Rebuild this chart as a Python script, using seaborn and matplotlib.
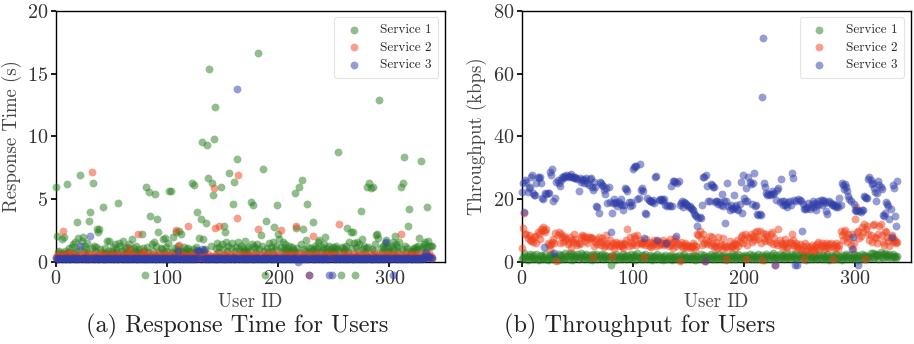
import matplotlib
matplotlib.use("Agg")
import matplotlib.pyplot as plt
import seaborn as sns
import pandas as pd
import numpy as np

# ---------------- data ----------------
user_ids = list(range(339))
services = ["Service 1", "Service 2", "Service 3"]

rt_service1 = [
    6.0, 2.1, 0.8, 0.9, 0.6, 1.8, 0.7, 2.0, 0.9, 0.6,
    6.2, 0.8, 1.1, 0.5, 1.2, 1.4, 0.7, 1.6, 0.9, 3.2,
    1.9, 1.0, 6.9, 1.7, 2.0, 0.8, 1.3, 1.0, 1.5, 0.7,
    3.25, 4.0, 1.1, 6.3, 1.3, 0.9, 1.2, 2.6, 2.4, 2.6,
    1.0, 0.8, 4.4, 0.6, 1.1, 0.7, 1.7, 0.9, 1.7, 0.6,
    0.9, 1.2, 0.7, 1.4, 1.0, 0.8, 4.7, 1.5, 1.3, 0.9,
    1.7, 0.7, 1.1, 0.6, 1.2, 0.8, 1.4, 1.0, 1.8, 0.7,
    1.1, 0.9, 1.3, 0.6, 0.8, 1.0, 0.7, 2.2, 1.1, 0.9,
    -1, 5.95, 1.2, 0.8, 5.6, 3.7, 1.4, 0.9, 1.6, 5.4,
    1.3, 3.4, 2.35, 0.8, 1.1, 1.0, 1.8, 0.7, 1.9, 1.2,
    0.9, 1.5, 5.65, 5.65, 0.8, 2.0, 1.1, 0.7, 2.4, 1.0,
    1.3, 2.5, 2.2, 0.9, 0.8, 1.2, 0.7, 1.0, 0.6, 1.1,
    0.9, 0.8, 6.3, 1.0, 6.1, 0.7, 1.2, 3.95, 0.9, 1.9,
    3.45, 9.55, 1.8, 0.8, 1.0, 3.1, 9.3, 6.7, 15.35, 1.3,
    6.3, 5.3, 9.75, 12.35, 1.1, 1.5, 0.8, 1.2, 6.0, 1.4,
    1.0, 2.9, 2.35, 1.6, 0.9, 1.3, 7.1, 1.1, 1.5, 4.6,
    6.4, 0.9, 1.2, 8.2, 1.6, 1.0, 1.3, 0.8, 1.1, 0.9,
    1.7, 0.8, 1.0, 1.2, 0.9, 4.75, 1.4, 4.55, 1.3, 1.1,
    0.8, 1.4, 16.6, 1.0, 2.15, 1.3, 7.4, 0.9, -1, 3.25,
    1.1, 0.8, 1.5, 1.2, 0.9, 1.6, 2.8, 1.0, 1.3, 4.55,
    2.25, 1.8, 1.2, 0.9, 1.6, 1.0, 1.4, 0.8, 1.1, 0.9,
    1.3, 0.8, 1.2, 1.0, 0.9, 5.5, 2.7, 1.1, 0.8, 6.0,
    1.4, 6.5, 2.65, 1.0, 0.9, 1.75, 4.6, 1.2, 0.8, 1.1,
    0.9, 3.2, 1.0, 1.3, 0.8, 1.1, 1.6, 1.75, 0.9, 1.2,
    1.0, 1.4, 2.0, 0.8, 1.1, 0.9, 1.3, 1.0, 0.8, 1.2,
    0.9, 1.1, 1.3, 1.0, 8.75, 0.8, -1, 1.2, 1.1, 0.9,
    1.0, 1.3, 2.7, 0.8, 1.6, 2.35, 1.1, 2.35, 1.5, -1,
    1.2, 1.6, 0.9, 1.4, 4.05, 1.85, 1.0, 1.3, 0.8, 1.1,
    6.0, 1.2, 6.3, 5.9, 1.0, 5.95, 0.9, 1.4, 2.15, 2.25,
    1.9, 12.9, 1.1, 0.8, 1.3, 1.0, 1.5, 1.75, 1.2, 0.9,
    1.1, 0.8, 1.3, 1.6, 1.0, 2.1, 1.4, 1.2, 0.9, 1.6,
    5.95, 1.0, 6.25, 8.35, 1.3, 0.8, 1.1, 2.85, 4.2, 0.9,
    0.8, 1.0, 1.1, 0.9, 1.2, 1.0, 1.3, 1.87, 8.05, 1.0,
    1.2, 1.4, 1.6, 1.1, 4.4, 1.7, 1.3, 1.25, 1.3,
]

rt_service2 = [
    0.4, 0.5, 0.3, 0.6, 0.4, 0.5, 2.5, 0.4, 0.3, 0.6,
    0.5, 0.4, 0.7, 0.3, 0.5, 0.4, 0.6, 0.3, 0.5, 0.4,
    0.3, 0.5, 0.4, 0.6, 0.3, 0.4, 0.5, 0.3, 0.6, 0.4,
    0.5, 0.3, 7.2, 0.4, 0.6, 0.5, 0.3, 0.4, 0.5, 0.3,
    0.6, 0.4, 0.5, 0.3, 0.4, 0.6, 0.5, 0.3, 0.4, 0.5,
    0.3, 0.6, 0.4, 0.5, 0.3, 0.4, 0.5, 0.6, 0.3, 0.4,
    0.5, 0.4, 0.3, 0.6, 0.5, 0.4, 1.05, 0.3, 0.5, 0.4,
    0.6, 0.3, 0.4, 0.5, 2.2, 0.4, 0.3, 0.6, 0.8, 0.4,
    0.5, 0.3, 0.4, 0.6, 0.5, 0.4, 0.3, 0.5, 0.6, 0.4,
    0.3, 0.5, 0.4, 0.6, 0.3, 0.4, 0.5, 0.3, 0.6, 0.4,
    0.5, 0.4, 0.3, 0.6, 0.4, 0.5, 0.3, 0.4, 2.55, 0.6,
    0.5, 1.35, 0.4, 0.3, 0.6, 0.5, 0.4, 0.3, 0.5, 2.9,
    0.4, 0.6, 0.3, 0.5, 0.4, 0.3, 0.6, 0.5, 0.4, 0.3,
    0.5, 0.4, 0.6, 0.3, 0.5, 0.4, 0.3, 0.6, 0.4, 0.5,
    0.3, 0.4, 5.85, 2.7, 0.6, 0.5, 0.4, 2.9, 0.3, 0.5,
    0.4, 0.6, 0.3, 0.5, 0.4, 0.3, 0.6, 0.5, 0.4, 0.3,
    0.5, 0.4, 0.6, 3.5, 6.9, 0.4, 0.3, 0.5, 0.6, 0.4,
    0.3, 0.5, 0.4, 0.6, 0.3, 0.4, 0.5, 0.3, 0.6, 0.4,
    0.5, 0.4, 2.65, 0.3, 0.6, 0.5, 0.4, 0.3, 0.5, 0.4,
    0.6, 0.3, 0.4, 0.5, 0.3, 0.6, 0.4, 0.5, 0.3, 0.4,
    0.5, 0.6, 2.55, 0.4, 0.3, 0.5, 0.4, 0.6, 0.3, 0.5,
    0.4, 0.3, 0.6, 0.5, 0.4, 0.3, 2.85, 0.5, 0.4, 0.6,
    0.3, 0.4, 0.5, 0.3, 0.6, 0.4, 0.5, 0.3, -1, 0.4,
    0.6, 2.1, 0.4, 0.5, 0.3, 0.6, 0.4, 0.5, 0.3, 0.4,
    0.5, 0.6, 0.3, 0.4, 0.5, 0.3, 0.6, 0.4, 0.5, 0.3,
    0.4, 0.6, 0.5, 0.3, 0.4, 3.0, 0.5, 0.3, 0.6, 0.4,
    0.5, 0.4, 0.3, 0.6, 0.4, 0.5, 0.3, 0.4, 0.6, 0.5,
    0.3, 0.4, 0.5, 0.6, 0.3, 0.4, 0.5, 0.3, 0.6, 0.4,
    0.5, 0.3, 0.4, 0.6, 0.5, 0.4, 0.3, 0.5, 0.6, 0.4,
    0.3, 0.5, 0.4, 0.6, 0.3, 0.4, 0.5, 0.3, 0.6, 0.4,
    0.5, 0.4, 0.3, 0.6, 0.5, 0.4, 0.3, 0.5, 0.4, 0.6,
    2.2, 0.4, 0.3, 0.5, 0.6, 0.4, 0.3, 0.5, 0.4, 0.6,
    0.3, 0.5, 0.4, 0.6, 0.3, 0.4, 0.5, 0.3, 0.6, 0.4,
    0.5, 0.3, 0.4, 0.6, 0.5, 0.4, 0.7, 0.5, 0.3,
]

rt_service3 = [
    0.3, 0.25, 0.2, 0.35, 0.3, 0.25, 0.3, 0.2, 0.3, 0.25,
    0.35, 0.3, 0.2, 0.25, 0.3, 0.35, 0.25, 0.3, 0.2, 0.3,
    0.25, 0.3, 1.3, 0.2, 0.35, 0.3, 0.25, 0.3, 0.2, 0.3,
    0.25, 2.1, 0.3, 0.2, 0.35, 0.25, 0.3, 0.3, 0.2, 0.25,
    0.3, 0.35, 0.2, 0.25, 0.3, 0.2, 0.35, 0.3, 0.25, 0.3,
    0.2, 0.3, 0.25, 0.35, 0.3, 0.2, 0.25, 0.3, 0.35, 0.2,
    0.3, 0.25, 0.3, 0.2, 0.35, 0.25, 0.3, 0.2, 0.3, 0.25,
    0.35, 0.3, 0.2, 0.25, 0.3, 0.35, 0.2, 0.3, 0.25, 0.3,
    0.2, 0.35, 0.25, 0.3, 0.2, 0.3, 0.25, 0.35, 0.3, 0.2,
    0.25, 0.3, 0.35, 0.2, 0.3, 0.25, 0.3, 0.2, 0.35, 0.25,
    0.3, 0.2, 0.25, 0.35, 0.3, 0.2, 0.3, 0.25, 0.3, 0.35,
    0.9, 0.25, 0.3, 0.2, 0.35, 0.25, 0.3, 0.2, 0.3, 0.25,
    0.35, 0.2, 0.3, 0.25, 0.3, 0.2, 0.35, 0.95, 0.3, 0.9,
    0.25, 1.0, 0.3, 0.95, 0.2, 0.3, 0.25, 0.35, 0.2, 0.3,
    0.25, 0.3, 0.35, 0.2, 0.25, 0.3, 0.2, 0.35, 0.3, 0.25,
    0.3, 0.2, 0.25, 0.35, 0.3, 0.2, 0.3, 0.25, 0.35, 0.3,
    0.2, 0.25, 0.3, 13.8, 0.35, 0.2, 0.3, 0.25, 0.3, 0.2,
    0.35, 0.25, 0.3, 0.2, 0.3, 0.35, 0.25, 0.2, 0.3, 0.25,
    0.3, 0.35, 0.2, 0.3, 0.25, 0.3, 0.2, 0.35, 0.25, 0.3,
    0.2, 0.3, 0.35, 0.25, 0.2, 0.3, 0.25, 0.3, 0.35, 0.2,
    0.3, 0.25, 0.3, 0.2, 0.35, 0.25, 0.3, 0.2, 0.3, 0.35,
    0.25, 0.2, 0.3, 0.25, 0.3, 0.35, 0.2, 0.3, 0.0, 0.25,
    0.3, 0.2, 0.35, 0.25, 0.3, 0.2, 0.3, 0.25, -1, 0.3,
    0.35, 0.2, 0.25, 0.3, 0.2, 0.35, 0.3, 0.25, 0.3, 0.2,
    0.25, 0.3, 0.35, 0.2, 0.3, 0.25, -1, 0.3, -1, 0.35,
    0.2, 0.3, 0.25, 0.35, 0.3, 0.2, 0.3, 0.25, 0.3, 0.2,
    0.35, 0.25, 0.3, 0.2, 0.3, 0.35, 0.25, 0.2, 0.3, 0.25,
    0.3, 0.35, 0.2, 0.3, 0.25, 0.3, 0.2, 0.35, 0.25, 0.3,
    0.2, 0.3, 0.35, 0.25, 0.2, 0.3, 0.25, 0.3, 0.35, 0.2,
    0.3, 0.25, 0.3, 0.2, 0.35, 0.25, 0.3, 1.6, 0.3, 0.35,
    0.25, 0.2, 0.3, -1, 0.3, 0.35, 0.2, 0.3, 0.25, 0.3,
    0.2, 0.35, 0.25, 0.3, 0.2, 0.3, 0.25, 0.35, 0.3, 0.2,
    0.25, 0.3, 0.35, 0.2, 0.3, 0.25, 0.3, 0.2, 0.35, 0.25,
    0.3, 0.5, 0.35, 0.8, 0.3, 0.5, 0.4, 0.3, 0.35,
]

tp_service1 = [
    0.8, 1.5, 2.8, 1.2, 2.0, 0.6, 1.8, 2.5, 1.0, 1.6,
    2.2, 0.9, 1.4, 2.6, 1.1, 0.7, 1.9, 2.3, 1.3, 0.8,
    1.7, 2.4, 1.0, 0.6, 1.5, 2.1, 1.2, 2.7, 0.9, 1.6,
    2.0, 1.3, 0.7, 2.5, 1.8, 1.0, 2.2, 1.4, 0.8, 2.9,
    1.6, 2.3, 1.1, 3.0, 1.9, 0.7, 2.6, 1.3, 2.0, 1.7,
    2.4, 0.9, 1.5, 2.8, 1.2, 2.1, 0.8, 1.8, 2.5, 1.4,
    1.0, 2.2, 1.6, 0.7, 2.7, 1.3, 1.9, 2.4, 0.9, 1.5,
    2.1, 1.2, 2.6, 0.8, 1.7, 2.3, 1.4, 2.0, 0.9, 1.6,
    -1, 2.2, 1.3, 1.8, 0.7, 2.5, 1.5, 1.1, 2.0, 1.6,
    0.9, 2.4, 1.4, 1.9, 0.8, 2.1, 1.2, 1.7, 2.6, 1.0,
    1.5, 2.2, 0.7, 1.8, 2.9, 1.3, 1.6, 0.9, 2.3, 1.1,
    1.9, 2.5, 1.2, 0.8, 1.7, 2.1, 1.4, 0.6, 2.0, 1.3,
    1.8, 0.9, 2.4, 1.5, 1.0, 2.0, 1.3, 0.7, 1.6, 2.2,
    1.1, 0.8, 1.9, 1.4, 2.3, 0.7, 1.6, 1.2, 2.0, 0.9,
    1.5, 2.1, 1.0, 0.6, 1.8, 1.3, 2.4, 0.9, 1.6, 1.2,
    2.0, 0.8, 1.4, 1.9, 1.1, 2.2, 0.7, 1.5, 1.8, 1.0,
    1.3, 2.4, 0.9, 1.7, 2.1, 1.2, 1.6, 0.8, 2.0, 1.4,
    2.5, 1.1, 1.8, 0.9, 2.2, 1.5, 1.0, 2.7, 1.3, 1.9,
    0.8, 1.6, 2.3, 1.2, 0.7, 2.0, 1.4, 1.8, 0.9, 2.4,
    1.5, 1.1, 2.1, 0.8, 1.7, 2.6, 1.3, 0.9, 2.0, 1.6,
    1.2, 2.3, 0.8, 1.9, 1.4, 2.5, 1.0, 1.7, 2.2, 0.9,
    1.5, 2.0, 1.1, 2.7, 0.8, 1.6, 2.3, 1.3, 0.7, 1.9,
    2.4, 1.2, 1.8, 0.9, 2.1, 1.5, 2.8, 1.0, 1.4, 2.2,
    1.7, 0.8, 2.6, 1.3, 1.9, 2.3, 1.1, 1.6, 2.9, 1.2,
    2.0, 1.5, 0.9, 2.4, 1.8, 1.2, 2.7, 1.4, 0.8, 2.1,
    1.6, 2.5, 1.0, 1.9, 2.2, 1.3, 0.7, 1.8, 2.4, 1.1,
    1.5, 2.0, 0.9, 1.7, 2.3, 1.2, 0.8, 1.9, 2.6, 1.4,
    1.0, 2.2, 1.6, 0.8, 1.8, 2.4, 1.3, 0.7, 1.5, 2.1,
    1.1, 1.9, 0.8, 2.5, 1.4, 1.0, 2.0, 1.6, 0.7, 2.3,
    1.2, 1.8, 2.6, 0.9, 1.5, 2.1, 1.3, 0.8, 1.7, 2.4,
    1.0, 1.6, 2.2, 0.7, 1.9, 1.4, 2.7, 1.1, 1.8, 2.3,
    0.9, 1.5, 2.0, 1.2, 2.8, 1.6, 3.0, 1.3, 2.4, 1.9,
    2.6, 1.1, 2.2, 3.2, 1.7, 2.5, 1.4, 2.9, 1.8, 2.1,
    1.6, 2.4, 1.2, 2.0, 2.7, 1.5, 1.9, 1.3, 1.8,
]

tp_service2 = [
    4.6, 10.8, 15.6, 8.8, 9.0, 7.5, 8.5, 7.0, 6.8, 7.2,
    6.5, 7.8, 8.3, 6.0, 9.5, 8.8, 7.2, 10.5, 9.8, 11.0,
    10.2, 9.6, 10.5, 6.0, 5.5, 4.0, 5.8, 6.5, 7.2, 6.0,
    9.2, 0.4, 8.5, 9.5, 6.2, 8.8, 7.8, 6.5, 8.3, 7.0,
    7.5, 5.8, 6.3, 8.0, 4.5, 7.0, 6.5, 9.0, 7.2, 6.0,
    5.5, 6.0, 5.8, 7.8, 8.6, 7.5, 8.2, 6.8, 8.0, 6.2,
    7.8, 7.2, 8.0, 7.5, 1.5, 5.2, 6.5, 7.2, 5.8, 8.0,
    6.5, 5.5, 7.5, 6.8, 4.8, 5.5, 8.5, 6.0, 5.2, 7.0,
    5.0, 1.8, 6.0, 4.5, 5.5, 6.5, 5.8, 5.0, 6.0, 5.5,
    5.2, 4.5, 6.0, 5.8, 7.0, 10.5, 5.0, 8.0, 6.5, 5.5,
    6.0, 8.3, 7.5, 5.5, 8.5, 6.2, 7.0, 6.0, 5.8, 6.5,
    1.5, 5.5, 7.2, 6.0, 5.0, 6.5, 4.8, 5.5, 6.2, 7.0,
    6.0, 5.2, 6.8, 5.5, 6.5, 5.8, 6.2, 7.0, 5.5, 6.0,
    5.8, 6.5, 5.0, 7.2, 5.5, 6.0, 4.5, 6.8, 7.5, 5.0,
    6.0, 5.8, 0.4, 6.5, 5.0, 4.5, 5.5, 6.0, 4.8, 5.5,
    5.0, 4.5, 5.2, 4.8, 6.0, 5.5, 4.2, 5.0, 9.0, 8.5,
    9.8, 7.5, 5.5, 8.8, 6.0, 0.4, 7.0, 5.8, 6.5, 8.2,
    5.5, 7.8, 6.0, 4.8, 5.2, 6.5, 4.5, 8.0, 5.0, 5.8,
    4.2, 7.5, 5.5, 4.8, 0.8, 5.0, 4.5, 6.8, 5.2, 4.8,
    5.5, 6.2, 4.5, 5.8, 7.0, 5.2, 6.5, 7.8, 8.5, 6.0,
    7.2, 8.8, 0.8, 5.5, 8.0, 7.5, 9.0, 6.5, 8.2, 7.0,
    9.5, 8.0, 10.0, 7.2, 9.8, 6.0, 0.6, 9.2, 7.5, 6.8,
    9.0, 8.2, 7.0, 6.5, 8.8, 9.5, 5.8, 7.5, -1, 6.0,
    5.5, 10.5, 7.0, 6.2, 4.8, 5.8, 5.0, 7.2, 6.0, 4.5,
    5.2, 6.5, 6.0, 9.0, 7.0, 5.5, 4.8, 6.2, 5.0, 4.5,
    5.8, 4.2, 3.8, 5.0, 0.8, 6.0, 3.5, 5.2, 4.0, 4.8,
    3.8, 5.5, 4.2, 3.5, 5.0, 4.5, 5.8, 6.5, 4.0, 5.2,
    6.0, 4.8, 5.5, 4.2, 6.2, 5.0, 4.5, 5.8, 6.0, 4.8,
    1.0, 5.5, 4.5, 6.0, 5.0, 4.2, 5.5, 10.0, 8.5, 7.0,
    9.5, 10.2, 8.0, 6.5, 9.0, 7.5, 5.5, 8.8, 4.0, 6.0,
    13.8, 17.5, 9.5, 10.0, 7.5, 8.2, 11.0, 9.5, 12.0, 0.8,
    10.5, 11.5, 9.0, 7.0, 8.5, 6.5, 11.8, 12.2, 8.0, 7.5,
    6.0, 9.0, 11.5, 12.0, 8.5, 6.5, 5.5, 10.0, 9.5, 7.8,
    6.8, 5.0, 7.5, 8.5, 6.5, 7.2, 6.8, 6.0, 6.5,
]

tp_service3 = [
    22.2, 25.3, 15.8, 26.0, 25.6, 22.4, 23.5, 24.0, 27.0, 27.7,
    21.9, 21.2, 21.4, 25.1, 27.2, 26.6, 27.0, 25.0, 20.3, 20.0,
    4.7, 22.1, 21.8, 22.1, 22.0, 28.7, 27.8, 29.5, 19.5, 2.8,
    20.3, 25.6, 26.2, 25.1, 24.2, 26.2, 27.2, 26.8, 27.4, 27.0,
    27.7, 27.4, 26.9, 27.4, 28.0, 27.1, 27.2, 26.8, 27.0, 26.6,
    26.4, 22.7, 26.8, 25.6, 26.1, 26.4, 25.2, 26.1, 26.7, 25.1,
    24.6, 26.4, 26.7, 24.0, 23.0, 25.6, 24.0, 17.8, 17.5, 15.5,
    25.6, 25.0, 24.6, 24.3, 23.0, 21.6, 23.5, 18.9, 24.0, 19.0,
    9.4, 15.7, 18.7, 20.0, 18.9, 19.1, 17.9, 19.1, 18.5, 20.0,
    18.2, 16.6, 18.2, 23.5, 23.1, 22.7, 19.0, 17.9, 19.1, 18.0,
    29.5, 30.2, 30.5, 30.6, 20.0, 20.3, 31.2, 23.0, 23.5, 22.6,
    7.5, 15.5, 15.3, 20.3, 19.8, 19.5, 19.3, 19.0, 19.6, 18.8,
    27.0, 27.4, 7.0, 19.8, 20.0, 19.8, 20.1, 19.5, 20.0, 18.3,
    6.2, 17.9, 18.0, 17.7, 24.2, 17.7, 25.9, 25.7, 25.5, 8.3,
    25.3, 25.7, 18.2, 18.9, 19.3, 17.4, 19.0, 18.8, 18.5, 18.2,
    17.4, 17.8, 17.1, 16.8, 16.6, 15.5, 15.0, 14.5, 11.3, 14.0,
    14.3, 13.9, 18.0, 27.2, 26.9, 0.4, 27.8, 24.2, 19.3, 19.5,
    24.9, 24.5, 24.0, 23.8, 19.0, 19.3, 19.3, 18.5, 19.0, 18.2,
    21.7, 17.9, 19.3, 12.3, 19.3, 25.3, 17.9, 16.5, 18.0, 17.1,
    16.8, 21.3, 17.5, 18.2, 16.9, 16.6, 18.5, 25.6, 15.5, 27.7,
    20.3, 19.5, 23.5, 19.3, 27.2, 25.6, 24.9, 18.5, 25.1, 28.2,
    17.7, 18.0, 15.3, 15.0, 15.3, 15.0, 52.6, 71.3, 25.3, 24.0,
    21.9, 21.4, 21.5, 21.4, 21.7, 22.5, 21.7, 21.9, -1, 19.7,
    22.8, 23.5, 19.0, 26.4, 19.3, 18.0, 19.5, 18.2, 18.5, 17.5,
    19.0, 19.3, 18.0, 28.2, 26.6, 19.7, -1, 19.5, -1, 20.0,
    19.6, 19.4, 9.9, 18.5, 17.0, 17.1, 16.8, 17.5, 18.7, 16.9,
    17.5, 18.6, 19.3, 17.4, 18.9, 16.5, 18.2, 19.5, 18.6, 19.8,
    18.0, 19.6, 19.3, 18.8, 16.1, 15.3, 19.0, 19.5, 18.9, 18.0,
    18.2, 18.6, 17.9, 17.4, 18.0, 17.6, 20.3, 18.1, 25.1, 24.5,
    23.2, 24.8, 24.0, 22.5, 20.9, 20.0, 19.5, 4.0, 8.1, 18.5,
    16.6, 16.2, 16.5, -1, 16.3, 16.0, 16.6, 16.4, 21.0, 20.7,
    20.3, 20.5, 26.4, 27.2, 26.0, 24.8, 25.3, 23.7, 22.4, 19.5,
    22.0, 25.7, 24.5, 24.0, 23.2, 15.0, 14.8, 15.5, 19.1, 18.4,
    17.9, 13.6, 17.0, 8.1, 24.6, 23.5, 14.7, 11.3, 25.7,
]

colors = ["#267F1E", "#F0401A", "#2F3DA8"]

# ---------------- style ----------------
sns.set_theme(style="ticks")
plt.rcParams.update({
    "font.family": "serif",
    "font.serif": ["cmr10", "DejaVu Serif"],
    "mathtext.fontset": "cm",
    "axes.formatter.use_mathtext": True,
    "axes.unicode_minus": False,
    "axes.edgecolor": "black",
    "axes.linewidth": 1.0,
    "xtick.color": "black",
    "ytick.color": "black",
    "xtick.labelcolor": "#333333",
    "ytick.labelcolor": "#333333",
    "xtick.direction": "out",
    "ytick.direction": "out",
    "xtick.major.size": 3.5,
    "ytick.major.size": 3.5,
})

fig = plt.figure(figsize=(9.14, 3.44), dpi=100)
ax1 = fig.add_axes([0.0613, 0.2384, 0.4256, 0.7305])
ax2 = fig.add_axes([0.5711, 0.2384, 0.4251, 0.7305])

rt_all = [rt_service1, rt_service2, rt_service3]
tp_all = [tp_service1, tp_service2, tp_service3]

for ax, series, ylim, ylabel in [
    (ax1, rt_all, (0, 20), "Response Time (s)"),
    (ax2, tp_all, (0, 80), "Throughput (kbps)"),
]:
    for name, vals, col in zip(services, series, colors):
        df = pd.DataFrame({"User ID": user_ids, "value": vals})
        sns.scatterplot(data=df, x="User ID", y="value", ax=ax, color=col,
                        alpha=0.5, s=32, linewidth=0, label=name,
                        clip_on=False, zorder=3)
    ax.set_xlim(0, 350)
    ax.set_ylim(*ylim)
    ax.set_xticks([0, 100, 200, 300])
    ax.set_xlabel("User ID", fontsize=13.5, color="#444444", labelpad=4)
    ax.set_ylabel(ylabel, fontsize=13.5, color="#444444", labelpad=4)
    ax.tick_params(labelsize=14.5, pad=2)
    for sp in ax.spines.values():
        sp.set_visible(True)
        sp.set_color("black")
    leg = ax.legend(loc="upper right", fontsize=9.5, frameon=True,
                    handletextpad=1.0, borderpad=0.5, labelspacing=0.4,
                    markerscale=1.0)
    leg.get_frame().set_edgecolor("#dddddd")
    leg.get_frame().set_linewidth(0.8)

ax1.set_yticks([0, 5, 10, 15, 20])
ax2.set_yticks([0, 20, 40, 60, 80])

fig.text(0.259, 0.05, "(a) Response Time for Users", ha="center",
         va="center", fontsize=17.5, color="#222222")
fig.text(0.700, 0.05, "(b) Throughput for Users", ha="center",
         va="center", fontsize=17.5, color="#222222")

fig.savefig("out.png", dpi=100)
